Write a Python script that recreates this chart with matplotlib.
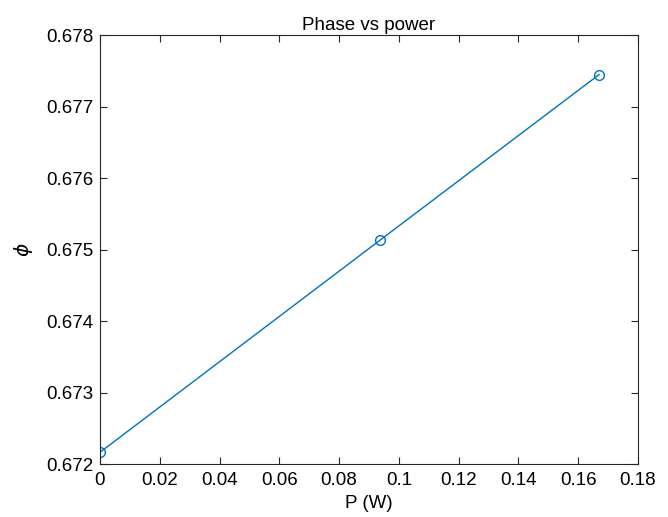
import matplotlib
matplotlib.use('Agg')
import matplotlib.pyplot as plt

# data
power = [0.0, 0.0937, 0.1670]
phase = [0.672164, 0.675131, 0.677447]

x_ticks = [0, 0.02, 0.04, 0.06, 0.08, 0.1, 0.12, 0.14, 0.16, 0.18]
x_labels = ['0', '0.02', '0.04', '0.06', '0.08', '0.1', '0.12', '0.14', '0.16', '0.18']
y_ticks = [0.672, 0.673, 0.674, 0.675, 0.676, 0.677, 0.678]
y_labels = ['0.672', '0.673', '0.674', '0.675', '0.676', '0.677', '0.678']

plt.rcParams['font.family'] = ['Liberation Sans', 'DejaVu Sans']

fig = plt.figure(figsize=(6.68, 5.17), dpi=100)
ax = fig.add_axes([0.1497, 0.1025, 0.8054, 0.8298])

ax.plot(power, phase, '-o', color='#0072BD', linewidth=1.0,
        markersize=7, markerfacecolor='none', markeredgewidth=1.0)

ax.set_xlim(0, 0.18)
ax.set_ylim(0.672, 0.678)
ax.set_xticks(x_ticks)
ax.set_xticklabels(x_labels)
ax.set_yticks(y_ticks)
ax.set_yticklabels(y_labels)

ax.tick_params(direction='in', length=5, width=0.8, top=True, right=True,
               labelsize=13.5, colors='#262626', labelcolor='black')
ax.tick_params(axis='x', pad=6)
ax.tick_params(axis='y', pad=5)
for side in ax.spines.values():
    side.set_color('#262626')
    side.set_linewidth(0.8)

ax.set_xlabel('P (W)', fontsize=13.5, labelpad=4)
ax.set_ylabel(r'$\phi$', fontsize=14.5, labelpad=8)
ax.set_title('Phase vs power', fontsize=13.5, pad=3.5)

plt.savefig('out.png', dpi=100)
